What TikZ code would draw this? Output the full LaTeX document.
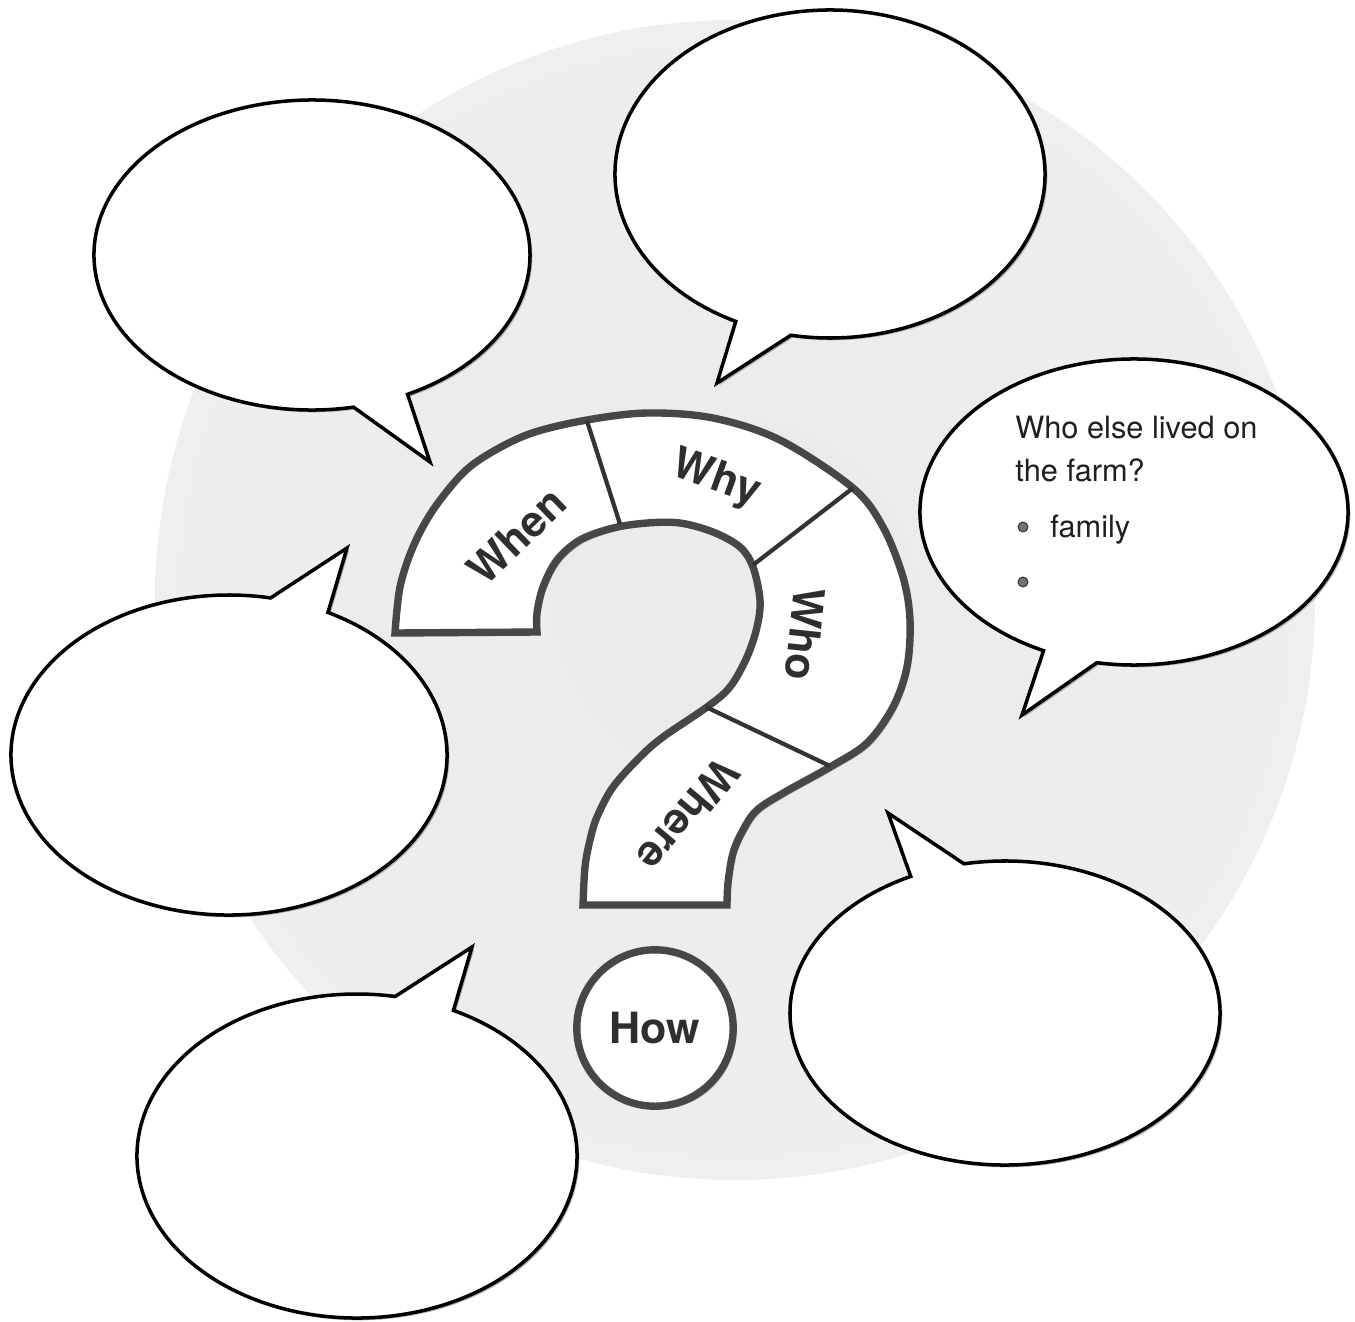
\documentclass[tikz,border=0pt]{standalone}
\usepackage{fontspec}
\setmainfont{TeX Gyre Heros}
\usetikzlibrary{shadows}

\pgfdeclareradialshading{haze}{\pgfpoint{0bp}{0bp}}%
  {color(0bp)=(black!8); color(22bp)=(black!7); color(50bp)=(white)}

\tikzset{
    bubble/.style={draw=black, line width=2pt, fill=white, line join=miter,
                   drop shadow={shadow xshift=1.3pt, shadow yshift=-1.3pt,
                                fill=black!30, opacity=1}},
    qmark/.style={draw=black!72, line width=4.2pt, fill=white, line join=miter,
                  drop shadow={shadow xshift=1.8pt, shadow yshift=-1.8pt,
                               fill=black!35, opacity=1}},
    divider/.style={draw=black!80, line width=2.4pt},
    qword/.style={font=\fontsize{24.5}{28}\selectfont\bfseries, text=black!82,
                  inner sep=0pt},
    ring/.style={circle, draw=black!72, line width=4.2pt, fill=white,
                 minimum size=89pt, inner sep=0pt,
                 drop shadow={shadow xshift=1.8pt, shadow yshift=-1.8pt,
                              fill=black!35, opacity=1}},
    note/.style={font=\fontsize{17.5}{24}\selectfont, align=left,
                 inner sep=0pt, text=black!88},
    dotmark/.style={circle, fill=black!55, draw=black!80, line width=0.6pt,
                    minimum size=5.6pt, inner sep=0pt},
}

% centre x, centre y, x radius, y radius, start/end angle, tip x, tip y
\newcommand{\speech}[8]{%
  \draw[bubble] (#1,#2) ++(#5:#3 and #4)
      arc[start angle=#5, end angle=#6, x radius=#3, y radius=#4]
      -- (#7,#8) -- cycle;}

\begin{document}
\begin{tikzpicture}[x=0.2mm, y=-0.2mm]

    \useasboundingbox (0,0) rectangle (1355,1322);
    \shade[shading=haze] (735,600) ellipse [x radius=580, y radius=580];

    \speech{312}{255}{218}{155}{79}{424}{430}{462}
    \speech{830}{174}{215}{164}{116}{460.5}{717}{383}
    \speech{1134}{512}{214}{153}{115}{460}{1022}{715}
    \speech{229}{755}{218}{160}{-63}{281}{347}{548}
    \speech{357}{1156}{220}{162}{-64}{280}{472}{947}
    \speech{1005}{1013}{215}{152}{-101}{244}{888}{813}

    % the question mark
    \draw[qmark] plot[smooth, tension=0.55] coordinates {
        (395,633) (400,587) (413,547) (433,510) (463,473) (492,452)
        (532,433) (587,420) (647,413) (713,418) (780,440) (853,488)
        (883,527) (903,577) (910,620) (907,667) (893,707) (867,743)
        (830,767) (785,792) (757,810) (743,830) (733,853) (728,883)
        (727,905)}
      -- plot[smooth, tension=0.55] coordinates {
        (583,905) (585,867) (590,840) (597,817) (613,787) (640,757)
        (663,737) (707,707) (730,687) (747,657) (757,627) (760,600)
        (753,567) (740,547) (713,532) (680,523) (647,523) (613,528)
        (580,540) (557,560) (543,587) (537,613) (537,632)}
      -- cycle;

    \coordinate (cut1in)  at (620,524);
    \coordinate (cut1out) at (587,421);
    \coordinate (cut2in)  at (753,565);
    \coordinate (cut2out) at (853,488);
    \coordinate (cut3in)  at (706,707);
    \coordinate (cut3out) at (830,766);
    \draw[divider] (cut1in) -- (cut1out);
    \draw[divider] (cut2in) -- (cut2out);
    \draw[divider] (cut3in) -- (cut3out);

    \node[qword, rotate=44]   (when)  at (517,536) {When};
    \node[qword, rotate=-20]  (why)   at (716,480) {Why};
    \node[qword, rotate=-96]  (who)   at (805,634) {Who};
    \node[qword, rotate=-130] (where) at (688,815) {Where};

    \node[ring, qword] (how) at (655,1028) {How};

    \node[note, anchor=base west] (farm) at (1015,481)
        {Who else lived on\\the farm?};
    \node[dotmark] (dot1) at (1023,527) {};
    \node[note, anchor=base west] (family) at (1050,537) {family};
    \node[dotmark] (dot2) at (1023,582) {};

\end{tikzpicture}
\end{document}
